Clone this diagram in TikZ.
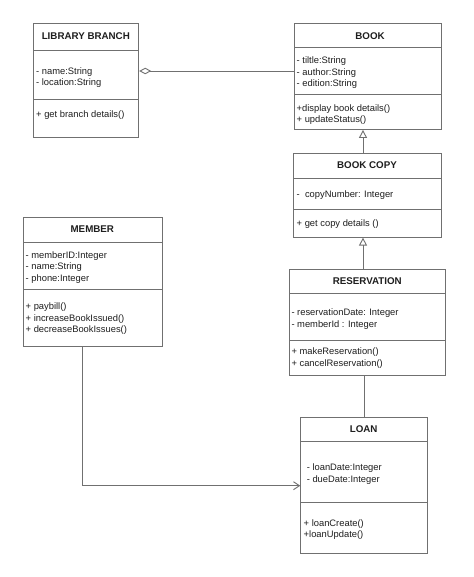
\documentclass[tikz,border=0pt]{standalone}
\usepackage{fontspec}
\setmainfont{Liberation Sans}
\usetikzlibrary{arrows.meta}
\definecolor{ln}{RGB}{112,112,112}
\definecolor{tx}{RGB}{30,30,30}
\tikzset{
  classbox/.style={draw=ln, line width=0.9bp, rectangle, inner sep=0pt, anchor=north west},
  divider/.style={draw=ln, line width=0.9bp},
  title/.style={font=\fontsize{9.8}{11.6}\selectfont\bfseries, text=tx, inner sep=0pt},
  member/.style={font=\fontsize{9.4}{11.6}\selectfont, text=tx, inner sep=0pt, anchor=base west, align=left},
  conn/.style={draw=ln, line width=0.9bp},
}
\begin{document}
\begin{tikzpicture}[x=1bp,y=-1bp]
\useasboundingbox (0,0) rectangle (474,577);
\fill[white] (0,0) rectangle (474,577);

% LIBRARY BRANCH (member nodes placed by the baseline of their last line)
\node[classbox, minimum width=105bp, minimum height=114bp] (lib) at (33.3,23.3) {};
\draw[divider] (33.3,50.7) -- (138.3,50.7);
\draw[divider] (33.3,99.3) -- (138.3,99.3);
\node[title] (libT) at (85.8,36.3) {LIBRARY BRANCH};
\node[member] (libA) at (36,85.6) {- name:String\\- location:String};
\node[member] (libM) at (36,117.7) {+ get branch details()};

% BOOK
\node[classbox, minimum width=146.7bp, minimum height=105.7bp] (book) at (294.3,23.3) {};
\draw[divider] (294.3,47.7) -- (441,47.7);
\draw[divider] (294.3,94.3) -- (441,94.3);
\node[title] (bookT) at (370,36) {BOOK};
\node[member] (bookA) at (296.5,86.9) {- tiltle:String\\- author:String\\- edition:String};
\node[member] (bookM) at (296.5,122.6) {+display book details()\\+ updateStatus()};

% BOOK COPY
\node[classbox, minimum width=148bp, minimum height=84bp] (copy) at (293,152.7) {};
\draw[divider] (293,178.3) -- (441,178.3);
\draw[divider] (293,209.3) -- (441,209.3);
\node[title] (copyT) at (367,165.3) {BOOK COPY};
\node[member] (copyA) at (296.5,197) {-\ \ copyNumber: Integer};
\node[member] (copyM) at (296.5,226.4) {+ get copy details ()};

% MEMBER
\node[classbox, minimum width=138.7bp, minimum height=129bp] (mem) at (23,216.7) {};
\draw[divider] (23,242.3) -- (161.7,242.3);
\draw[divider] (23,289.3) -- (161.7,289.3);
\node[title] (memT) at (92.3,229.3) {MEMBER};
\node[member] (memA) at (25.5,281.2) {- memberID:Integer\\- name:String\\- phone:Integer};
\node[member] (memM) at (25.5,332.9) {+ paybill()\\+ increaseBookIssued()\\+ decreaseBookIssues()};

% RESERVATION
\node[classbox, minimum width=156bp, minimum height=105.7bp] (res) at (289.3,269.3) {};
\draw[divider] (289.3,293.3) -- (445.3,293.3);
\draw[divider] (289.3,340) -- (445.3,340);
\node[title] (resT) at (367.3,281.3) {RESERVATION};
\node[member] (resA) at (291.3,327) {- reservationDate: Integer\\- memberId : Integer};
\node[member] (resM) at (291.3,366.3) {+ makeReservation()\\+ cancelReservation()};

% LOAN
\node[classbox, minimum width=126.7bp, minimum height=136bp] (loan) at (300.3,417.3) {};
\draw[divider] (300.3,441.7) -- (427,441.7);
\draw[divider] (300.3,502.7) -- (427,502.7);
\node[title] (loanT) at (363.7,429.3) {LOAN};
\node[member] (loanA) at (304,482) {\ - loanDate:Integer\\\ - dueDate:Integer};
\node[member] (loanM) at (303.5,537.6) {+ loanCreate()\\+loanUpdate()};

% connectors
\coordinate (aggy) at (0,71);
\coordinate (genx) at (363,0);
\coordinate (memx) at (82.7,0);
\coordinate (bend) at (82.7,485.7);
\draw[conn, {Diamond[open,length=12bp,width=6.5bp,line width=0.9bp]}-] (lib.east |- aggy) -- (book.west |- aggy);
\draw[conn, -{Triangle[open,length=8bp,width=8bp,line width=0.9bp]}] (copy.north -| genx) -- (book.south -| genx);
\draw[conn, -{Triangle[open,length=8bp,width=8bp,line width=0.9bp]}] (res.north -| genx) -- (copy.south -| genx);
\draw[conn] (res.south -| loan.north) -- (loan.north);
\draw[conn, -{Straight Barb[length=6bp,width=8bp,line width=0.9bp]}] (mem.south -| memx) -- (bend) -- (loan.west |- bend);
\end{tikzpicture}
\end{document}
